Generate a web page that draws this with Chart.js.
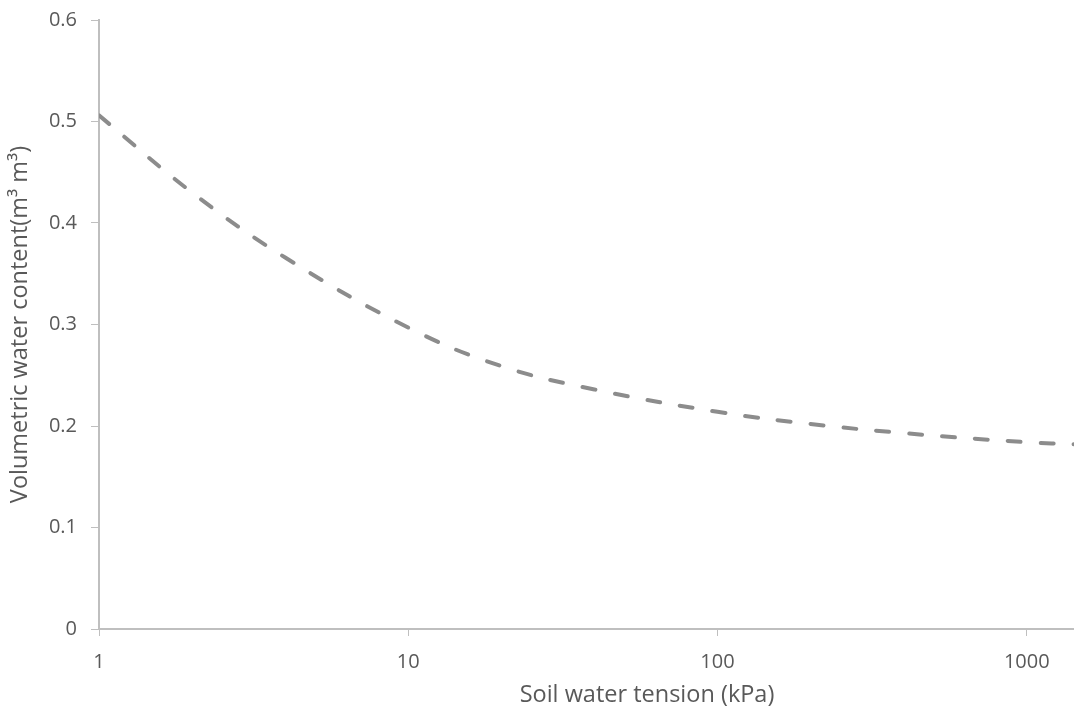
<!DOCTYPE html>
<html>
<head>
<meta charset="utf-8">
<script src="https://cdn.jsdelivr.net/npm/chart.js@4"></script>
<style>
  html, body { margin: 0; padding: 0; background: #fff; overflow: hidden; }
  #frame { width: 1074px; height: 711px; overflow: hidden; position: relative; }
  /* the source plot runs past the right edge of the picture, so the canvas does too */
  #wrap { width: 1195px; height: 711px; position: relative; }
</style>
</head>
<body>
<div id="frame"><div id="wrap"><canvas id="curve"></canvas></div></div>
<script>
// soil water retention curve
const tension = [1, 2, 4, 10, 20, 40, 100, 200, 400, 1000, 1450];
const waterContent = [0.506, 0.430, 0.366, 0.297, 0.259, 0.236, 0.214, 0.202, 0.193, 0.184, 0.182];
const xTicks = [1, 10, 100, 1000];
const yTicks = [0, 0.1, 0.2, 0.3, 0.4, 0.5, 0.6];

const points = tension.map((t, i) => ({ x: t, y: waterContent[i] }));
const axisGrey = "#bfbfbf";
const textGrey = "#595959";
const fam = "'Open Sans', 'Liberation Sans', sans-serif";

new Chart(document.getElementById("curve"), {
  type: "line",
  data: {
    datasets: [
      {
        data: points,
        borderColor: "#8c8c8c",
        borderWidth: 4,
        borderDash: [13, 20],
        borderCapStyle: "round",
        pointRadius: 0,
        tension: 0.4,
        fill: false,
      },
    ],
  },
  options: {
    responsive: true,
    maintainAspectRatio: false,
    animation: false,
    layout: { padding: { top: 20, right: 0, left: 6, bottom: 0 } },
    plugins: { legend: { display: false }, tooltip: { enabled: false } },
    scales: {
      x: {
        type: "logarithmic",
        min: 1,
        max: 3500,
        afterBuildTicks: (axis) => {
          axis.ticks = xTicks.map((v) => ({ value: v }));
        },
        afterFit: (axis) => {
          axis.height = 82;
        },
        ticks: {
          color: textGrey,
          font: { family: fam, size: 20 },
          padding: 14,
          autoSkip: false,
          maxRotation: 0,
          callback: (v) => String(v),
        },
        grid: { drawOnChartArea: false, drawTicks: true, tickLength: 7, color: axisGrey },
        border: { color: axisGrey, width: 2 },
        title: {
          display: true,
          text: "Soil water tension (kPa)",
          color: textGrey,
          font: { family: fam, size: 23.5 },
          padding: { top: 0, bottom: 2 },
        },
      },
      y: {
        min: 0,
        max: 0.6,
        afterBuildTicks: (axis) => {
          axis.ticks = yTicks.map((v) => ({ value: v }));
        },
        afterFit: (axis) => {
          axis.width = 93;
        },
        ticks: {
          color: textGrey,
          font: { family: fam, size: 20, lineHeight: 0.5 },
          padding: 14,
          callback: (v) => String(Math.round(v * 10) / 10),
        },
        grid: { drawOnChartArea: false, drawTicks: true, tickLength: 8, color: axisGrey },
        border: { color: axisGrey, width: 2 },
        title: {
          display: true,
          text: "Volumetric water content(m³ m³)",
          color: textGrey,
          font: { family: fam, size: 23.5 },
          padding: { top: 0, bottom: 2 },
        },
      },
    },
  },
});
</script>
</body>
</html>
